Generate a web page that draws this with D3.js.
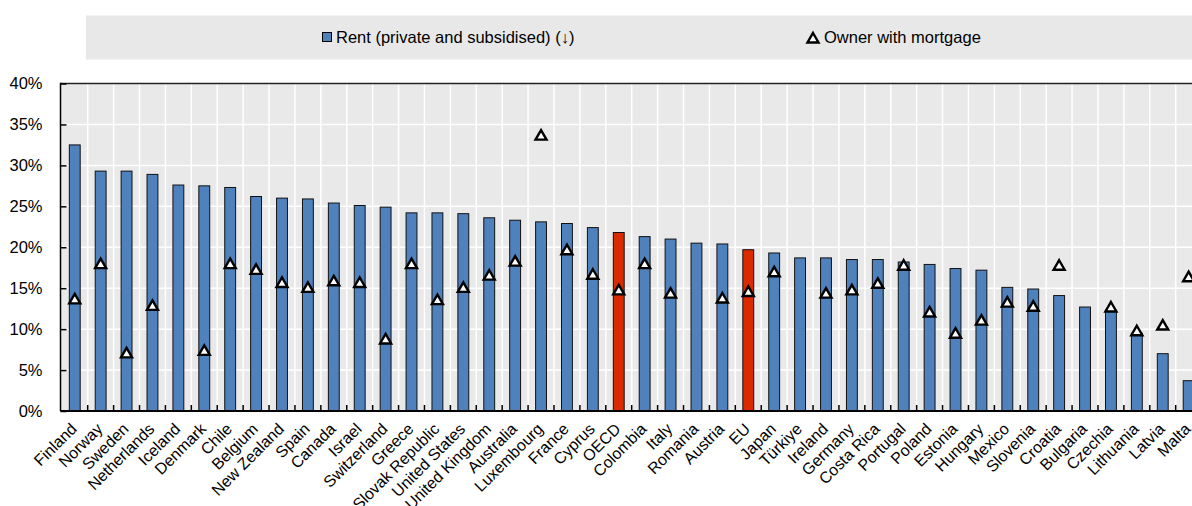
<!DOCTYPE html>
<html>
<head>
<meta charset="utf-8">
<script src="https://cdn.jsdelivr.net/npm/d3@7"></script>
<style>
  html, body { margin: 0; padding: 0; background: #ffffff; }
  svg { display: block; font-family: "Liberation Sans", Arial, sans-serif; }
</style>
</head>
<body>
<svg id="chart" width="1192" height="506"></svg>
<script>
const categories = ["Finland","Norway","Sweden","Netherlands","Iceland","Denmark","Chile","Belgium","New Zealand","Spain","Canada","Israel","Switzerland","Greece","Slovak Republic","United States","United Kingdom","Australia","Luxembourg","France","Cyprus","OECD","Colombia","Italy","Romania","Austria","EU","Japan","Türkiye","Ireland","Germany","Costa Rica","Portugal","Poland","Estonia","Hungary","Mexico","Slovenia","Croatia","Bulgaria","Czechia","Lithuania","Latvia","Malta"];
const rentValues = [32.5,29.3,29.3,28.9,27.6,27.5,27.3,26.2,26.0,25.9,25.4,25.1,24.9,24.2,24.2,24.1,23.6,23.3,23.1,22.9,22.4,21.8,21.3,21.0,20.5,20.4,19.7,19.3,18.7,18.7,18.5,18.5,18.2,17.9,17.4,17.2,15.1,14.9,14.1,12.7,12.3,9.5,7.0,3.7];
const mortgageValues = [13.7,18.0,7.1,12.9,null,7.4,18.0,17.3,15.7,15.1,15.9,15.7,8.8,18.0,13.6,15.1,16.6,18.3,33.7,19.7,16.7,14.8,18.0,14.4,null,13.8,14.6,17.0,null,14.4,14.8,15.6,17.8,12.1,9.5,11.1,13.3,12.8,17.8,null,12.7,9.8,10.5,16.4];
const highlighted = ["OECD","EU"];
const yTicks = [0,5,10,15,20,25,30,35,40];
const seriesNames = ["Rent (private and subsidised) (\u2193)","Owner with mortgage"];

const svg = d3.select("#chart");
const plotLeft = 60.5, plotTop = 83.5, plotBottom = 411, plotRight = 1192;
const x = d3.scaleBand().domain(categories).range([61.8, 1201.6]).paddingInner(0.58).paddingOuter(0.29);
const y = d3.scaleLinear().domain([0, 40]).range([plotBottom, plotTop]);

const blue = "#4F81BD", red = "#DA2A00", bg = "#E9E9E9";
const triPath = "M0,-5L5.5,4.5L-5.5,4.5Z";

// legend
svg.append("rect").attr("x", 86).attr("y", 15.5).attr("width", 1120).attr("height", 44).attr("fill", "#E8E8E8");
svg.append("rect").attr("x", 322.5).attr("y", 32.5).attr("width", 9).attr("height", 9).attr("fill", blue).attr("stroke", "#000").attr("stroke-width", 1);
svg.append("text").attr("x", 336).attr("y", 43).attr("font-size", 16.5).attr("fill", "#000").text(seriesNames[0]);
svg.append("path").attr("d", triPath).attr("transform", "translate(813,38)").attr("fill", "#fff").attr("stroke", "#000").attr("stroke-width", 2.4).attr("stroke-linejoin", "miter");
svg.append("text").attr("x", 824).attr("y", 43).attr("font-size", 16.5).attr("fill", "#000").text(seriesNames[1]);

// plot background
svg.append("rect").attr("x", plotLeft).attr("y", plotTop).attr("width", plotRight - plotLeft).attr("height", plotBottom - plotTop).attr("fill", bg);

// horizontal gridlines
svg.append("g").selectAll("line").data(yTicks.slice(1)).join("line")
  .attr("x1", plotLeft).attr("x2", plotRight)
  .attr("y1", d => y(d)).attr("y2", d => y(d))
  .attr("stroke", "#fff").attr("stroke-width", 1.5);

// vertical gridlines at band boundaries
const step = x.step();
const boundaries = categories.slice(1).map(c => x(c) - x.paddingInner() * step / 2);
svg.append("g").selectAll("line").data(boundaries).join("line")
  .attr("x1", d => d).attr("x2", d => d)
  .attr("y1", plotTop).attr("y2", plotBottom)
  .attr("stroke", "#fff").attr("stroke-width", 1.5);

// top border
svg.append("line").attr("x1", plotLeft).attr("x2", plotRight).attr("y1", plotTop).attr("y2", plotTop).attr("stroke", "#222").attr("stroke-width", 1.5);

// bars
svg.append("g").selectAll("rect").data(categories).join("rect")
  .attr("x", d => x(d)).attr("width", x.bandwidth())
  .attr("y", (d, i) => y(rentValues[i])).attr("height", (d, i) => y(0) - y(rentValues[i]))
  .attr("fill", d => highlighted.includes(d) ? red : blue)
  .attr("stroke", "#111").attr("stroke-width", 1);

// bottom ticks (inside)
svg.append("g").selectAll("line").data(boundaries).join("line")
  .attr("x1", d => d).attr("x2", d => d)
  .attr("y1", plotBottom - 6).attr("y2", plotBottom)
  .attr("stroke", "#000").attr("stroke-width", 1.5);

// markers
svg.append("g").selectAll("path").data(categories.map((c, i) => ({c, v: mortgageValues[i]})).filter(d => d.v !== null)).join("path")
  .attr("d", triPath)
  .attr("transform", d => `translate(${x(d.c) + x.bandwidth() / 2},${y(d.v)})`)
  .attr("fill", "#fff").attr("stroke", "#000").attr("stroke-width", 2.4).attr("stroke-linejoin", "miter");

// y axis
const yAxis = d3.axisLeft(y).tickValues(yTicks).tickSize(-6).tickPadding(18).tickFormat(d => d + "%");
const yg = svg.append("g").attr("transform", `translate(${plotLeft},0)`).call(yAxis);
yg.select(".domain").remove();
yg.selectAll(".tick line").attr("stroke", "#000").attr("stroke-width", 1.5);
yg.selectAll(".tick text").attr("font-size", 16.5).attr("fill", "#000").attr("font-family", "Liberation Sans, Arial, sans-serif");
svg.append("line").attr("x1", plotLeft).attr("x2", plotLeft).attr("y1", plotTop - 0.75).attr("y2", plotBottom).attr("stroke", "#000").attr("stroke-width", 1.5);

// x axis line
svg.append("line").attr("x1", plotLeft).attr("x2", plotRight).attr("y1", plotBottom).attr("y2", plotBottom).attr("stroke", "#000").attr("stroke-width", 2);

// x labels
svg.append("g").selectAll("text").data(categories).join("text")
  .attr("transform", d => `translate(${x(d) + x.bandwidth() / 2 - 1},${plotBottom + 15}) rotate(-45)`)
  .attr("text-anchor", "end").attr("dy", "0.35em")
  .attr("font-size", 16).attr("fill", "#000")
  .text(d => d);
</script>
</body>
</html>
